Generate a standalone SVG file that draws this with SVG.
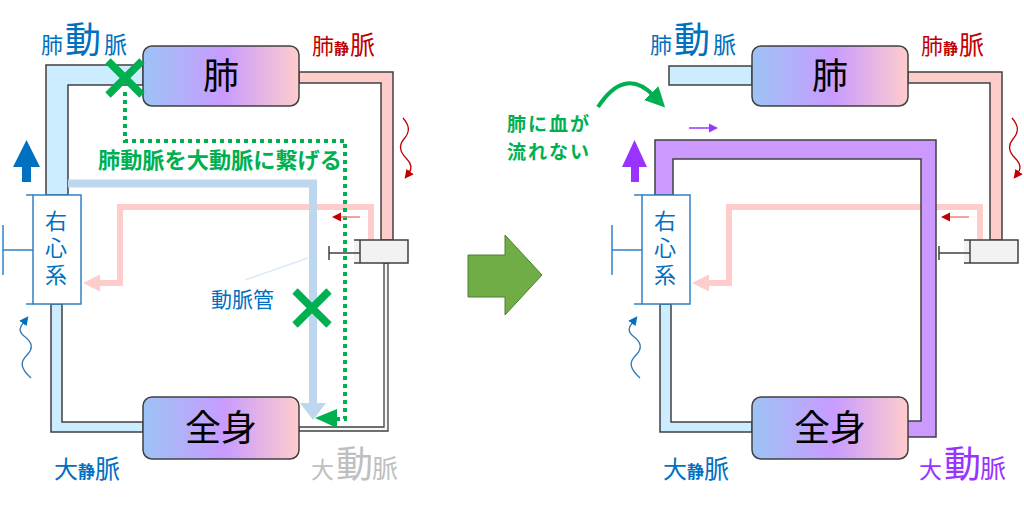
<svg xmlns="http://www.w3.org/2000/svg" width="1024" height="508" viewBox="0 0 1024 508">
<defs>
<linearGradient id="boxGrad" x1="0" y1="0" x2="1" y2="0">
<stop offset="0" stop-color="#9DC3F5"/>
<stop offset="0.52" stop-color="#C89BFF"/>
<stop offset="1" stop-color="#FFCCCC"/>
</linearGradient>
<marker id="mGreen" viewBox="0 0 10 10" refX="2" refY="5" markerWidth="5" markerHeight="5" orient="auto">
<path d="M0,0 L10,5 L0,10 Z" fill="#00B050"/>
</marker>
<marker id="mBlue" viewBox="0 0 10 10" refX="2" refY="5" markerWidth="7" markerHeight="7" orient="auto">
<path d="M0,0 L10,5 L0,10 Z" fill="#0070C0"/>
</marker>
<marker id="mRed" viewBox="0 0 10 10" refX="2" refY="5" markerWidth="7" markerHeight="7" orient="auto">
<path d="M0,0 L10,5 L0,10 Z" fill="#C00000"/>
</marker>
</defs>
<style>
text{font-family:"Noto Sans CJK JP","Noto Sans CJK SC",sans-serif;}
.pipe{stroke:#404040;stroke-width:1.5;stroke-linejoin:miter;}
.blue{fill:#CCECFF;}
.pink{fill:#FFCCCC;}
.purple{fill:#CC99FF;}
.organ{fill:url(#boxGrad);stroke:#404040;stroke-width:1.5;}
.organT{font-size:36px;fill:#000;text-anchor:middle;}
.heart{fill:#fff;stroke:#2E80C8;stroke-width:1.5;}
.heartL{stroke:#2E80C8;stroke-width:1.5;fill:none;}
.heartT{font-size:22px;fill:#0070C0;text-anchor:middle;writing-mode:vertical-rl;letter-spacing:5px;}
.syr{fill:#F2F2F2;stroke:none;}
.syrL{stroke:#404040;stroke-width:1.5;fill:none;}
.lblBlue{fill:#0070C0;}
.lblRed{fill:#C00000;}
.lblGray{fill:#BFBFBF;}
.lblPurple{fill:#9933FF;}
.gtxt{fill:#00B050;font-weight:bold;}
.xmark{stroke:#00B050;stroke-width:7.5;stroke-linecap:butt;}
.pinkArrow{stroke:#FFCCCC;stroke-width:6;fill:none;}
</style>

<!-- ================= LEFT DIAGRAM ================= -->
<g id="connectors-left">
<path class="pipe blue" d="M143,65 H46 V195 H68 V85 H143 Z"/>
<path class="pipe blue" d="M62,304 V422 H143 V432 H51 V304 Z"/>
<path class="pipe pink" d="M299,72 H393 V240 H381 V83 H299 Z"/>
<path d="M299,427 H384 V263 H388 V431 H299 Z" fill="#F7F7F7" stroke="#404040" stroke-width="1.3"/>
<path class="pinkArrow" d="M371,240 V207 H120 V283 H98"/>
<polygon points="83,283 100,274.5 100,291.5" fill="#FFCCCC"/>
<path d="M68,183.5 H313 V404" stroke="#BDD7EE" stroke-width="8" fill="none"/>
<polygon points="300,403 326,403 313,420" fill="#BDD7EE"/>
<line x1="245" y1="280" x2="308" y2="258" stroke="#DDEBF7" stroke-width="1.5"/>
<path d="M125,92 V141 H345 V419 H336" stroke="#00B050" stroke-width="4" stroke-dasharray="4 4" fill="none"/>
<polygon points="315,418 337,409 337,428" fill="#00B050"/>
<line x1="360" y1="217" x2="340" y2="217" stroke="#F08080" stroke-width="1.5"/>
<polygon points="332,217 341,212.5 341,221.5" fill="#C00000"/>
<polygon points="26.5,140 13,167 40,167" fill="#0070C0"/>
<rect x="22" y="166" width="9" height="16" fill="#0070C0"/>
<path d="M31,378 C20,368 20,362 27,355 C34,348 32,342 24,336 C17,330 21,326 24,322" stroke="#2E75B6" stroke-width="1.3" fill="none" marker-end="url(#mBlue)"/>
<path d="M403,118 C410,126 410,132 404,139 C398,146 400,152 406,158 C412,164 412,169 409,173" stroke="#C00000" stroke-width="1.3" fill="none" marker-end="url(#mRed)"/>
</g>

<g id="lung-left">
<rect class="organ" x="143" y="46" width="156" height="60" rx="9"/>
<text class="organT" x="221" y="89">肺</text>
</g>
<g id="body-left">
<rect class="organ" x="143" y="397" width="156" height="62" rx="9"/>
<text class="organT" x="221" y="441">全身</text>
</g>
<g id="heart-left">
<rect class="heart" x="33" y="195" width="48" height="109"/>
<line class="heartL" x1="26" y1="195" x2="33" y2="195"/>
<line class="heartL" x1="26" y1="304" x2="33" y2="304"/>
<line class="heartL" x1="3" y1="250" x2="33" y2="250"/>
<line class="heartL" x1="3" y1="225" x2="3" y2="275"/>
<text class="heartT" x="56" y="250">右心系</text>
</g>
<g id="syringe-left">
<rect class="syr" x="354" y="240" width="54" height="23"/>
<path class="syrL" d="M354,240 H408 V263 H354"/>
<line class="syrL" x1="360" y1="240" x2="360" y2="263"/>
<line class="syrL" x1="329" y1="253" x2="360" y2="253"/>
<line class="syrL" x1="329" y1="246" x2="329" y2="260"/>
</g>
<g id="xmarks-left">
<path class="xmark" d="M108,61 L142,95 M142,61 L108,95"/>
<path class="xmark" d="M295,291 L329,325 M329,291 L295,325"/>
</g>
<g id="labels-left">
<text class="lblBlue" y="53"><tspan x="41" font-size="22">肺</tspan><tspan x="65" font-size="36">動</tspan><tspan x="104" font-size="23">脈</tspan></text>
<text class="lblRed" y="54"><tspan x="312" font-size="22">肺</tspan><tspan x="334" font-size="15" font-weight="bold">静</tspan><tspan x="350" font-size="25">脈</tspan></text>
<text class="lblBlue" y="478"><tspan x="54" font-size="24">大</tspan><tspan x="78" font-size="17" font-weight="bold">静</tspan><tspan x="95" font-size="25">脈</tspan></text>
<text class="lblGray" y="478"><tspan x="311" font-size="23">大</tspan><tspan x="336" font-size="37">動</tspan><tspan x="372" font-size="26">脈</tspan></text>
<text class="gtxt" x="98" y="168" font-size="22" textLength="244" lengthAdjust="spacingAndGlyphs">肺動脈を大動脈に繋げる</text>
<text class="lblBlue" x="211" y="307" font-size="21">動脈管</text>
</g>

<g id="transition-arrow">
<polygon points="468,255 505,255 505,235 542,275 505,315 505,297 468,297" fill="#70AD47" stroke="#507E32" stroke-width="1"/>
</g>

<!-- ================= RIGHT DIAGRAM ================= -->
<g id="connectors-right">
<rect class="pipe blue" x="669" y="66" width="83" height="19"/>
<path class="pipe blue" d="M671,304 V422 H752 V432 H660 V304 Z"/>
<path class="pipe pink" d="M908,72 H1002 V240 H990 V83 H908 Z"/>
<path class="pinkArrow" d="M980,240 V207 H729 V283 H707"/>
<polygon points="692,283 709,274.5 709,291.5" fill="#FFCCCC"/>
<path class="pipe purple" d="M907,421 H921 V159 H673 V195 H655 V140 H936 V437 H907 Z"/>
<line x1="969" y1="217" x2="949" y2="217" stroke="#F08080" stroke-width="1.5"/>
<polygon points="941,217 950,212.5 950,221.5" fill="#C00000"/>
<line x1="689" y1="128" x2="710" y2="128" stroke="#9933FF" stroke-width="1.5"/>
<polygon points="718,128 709,123.5 709,132.5" fill="#9933FF"/>
<polygon points="634.5,140 622,167 647,167" fill="#9933FF"/>
<rect x="631" y="166" width="8" height="16" fill="#9933FF"/>
<path d="M640,378 C629,368 629,362 636,355 C643,348 641,342 633,336 C626,330 630,326 633,322" stroke="#2E75B6" stroke-width="1.3" fill="none" marker-end="url(#mBlue)"/>
<path d="M1012,118 C1019,126 1019,132 1013,139 C1007,146 1009,152 1015,158 C1021,164 1021,169 1018,173" stroke="#C00000" stroke-width="1.3" fill="none" marker-end="url(#mRed)"/>
<path d="M598,107 Q625,66 654,96" stroke="#00B050" stroke-width="4" fill="none" marker-end="url(#mGreen)"/>
</g>

<g id="lung-right">
<rect class="organ" x="752" y="46" width="156" height="60" rx="9"/>
<text class="organT" x="830" y="89">肺</text>
</g>
<g id="body-right">
<rect class="organ" x="752" y="397" width="156" height="62" rx="9"/>
<text class="organT" x="830" y="441">全身</text>
</g>
<g id="heart-right">
<rect class="heart" x="642" y="195" width="48" height="109"/>
<line class="heartL" x1="634" y1="195" x2="642" y2="195"/>
<line class="heartL" x1="634" y1="304" x2="642" y2="304"/>
<line class="heartL" x1="612" y1="250" x2="642" y2="250"/>
<line class="heartL" x1="612" y1="225" x2="612" y2="275"/>
<text class="heartT" x="665" y="250">右心系</text>
</g>
<g id="syringe-right">
<rect class="syr" x="964" y="240" width="54" height="23"/>
<path class="syrL" d="M964,240 H1018 V263 H964"/>
<line class="syrL" x1="970" y1="240" x2="970" y2="263"/>
<line class="syrL" x1="939" y1="253" x2="970" y2="253"/>
<line class="syrL" x1="939" y1="246" x2="939" y2="260"/>
</g>
<g id="labels-right">
<text class="lblBlue" y="53"><tspan x="650" font-size="22">肺</tspan><tspan x="674" font-size="36">動</tspan><tspan x="713" font-size="23">脈</tspan></text>
<text class="lblRed" y="54"><tspan x="921" font-size="22">肺</tspan><tspan x="943" font-size="15" font-weight="bold">静</tspan><tspan x="959" font-size="25">脈</tspan></text>
<text class="lblBlue" y="478"><tspan x="663" font-size="24">大</tspan><tspan x="687" font-size="17" font-weight="bold">静</tspan><tspan x="704" font-size="25">脈</tspan></text>
<text class="lblPurple" y="478"><tspan x="919" font-size="23">大</tspan><tspan x="944" font-size="37">動</tspan><tspan x="980" font-size="26">脈</tspan></text>
<text class="gtxt" font-size="19" letter-spacing="2"><tspan x="507" y="131">肺に血が</tspan><tspan x="507" y="158.5">流れない</tspan></text>
</g>
</svg>
